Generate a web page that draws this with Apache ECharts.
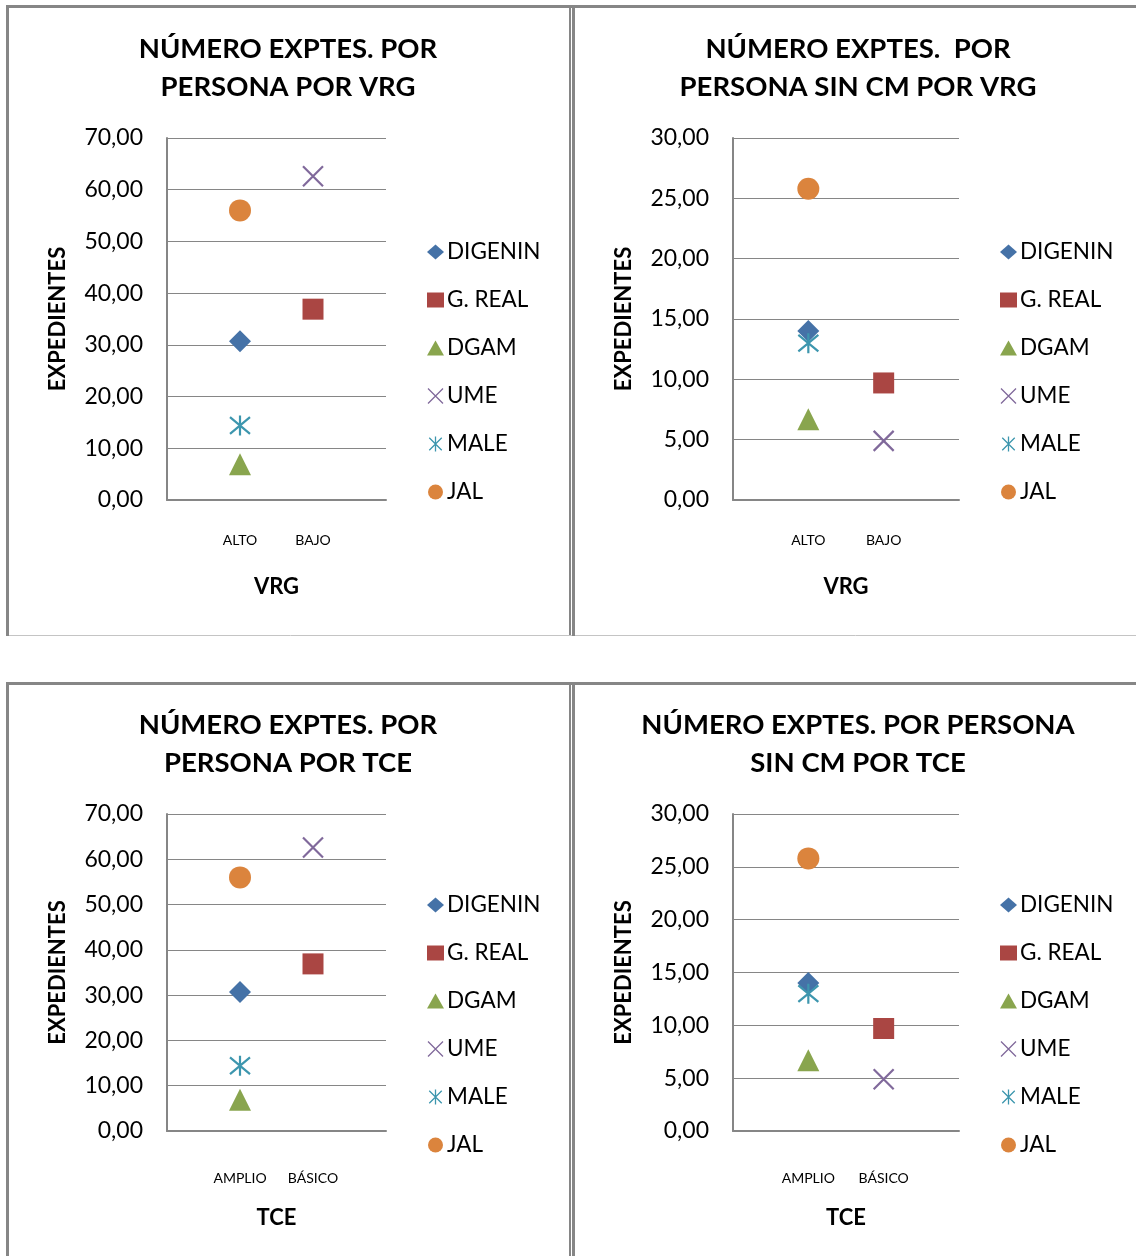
<!DOCTYPE html>
<html>
<head>
<meta charset="utf-8">
<script src="https://cdn.jsdelivr.net/npm/echarts@6/dist/echarts.min.js"></script>
<style>
html,body{margin:0;padding:0;background:#fff;}
#chart{width:1136px;height:1256px;}
</style>
</head>
<body>
<div id="chart"></div>
<script>
// ---- data ----
const seriesNames = ['DIGENIN', 'G. REAL', 'DGAM', 'UME', 'MALE', 'JAL'];
const categoriesVRG = ['ALTO', 'BAJO'];
const categoriesTCE = ['AMPLIO', 'BÁSICO'];
// category position (1 = first category, 2 = second) of each series' point
const seriesCategory = [1, 2, 1, 2, 1, 1];
const valuesPorPersona = [30.7, 36.9, 6.9, 62.6, 14.4, 56.0];
const valuesSinCM = [14.0, 9.7, 6.7, 4.9, 13.0, 25.8];
const yTicksPorPersona = { min: 0, max: 70, interval: 10 };
const yTicksSinCM = { min: 0, max: 30, interval: 5 };

const titles = [
  'NÚMERO EXPTES. POR\nPERSONA POR VRG',
  'NÚMERO EXPTES.  POR\nPERSONA SIN CM POR VRG',
  'NÚMERO EXPTES. POR\nPERSONA POR TCE',
  'NÚMERO EXPTES. POR PERSONA\nSIN CM POR TCE'
];
const xNames = ['VRG', 'VRG', 'TCE', 'TCE'];
const yName = 'EXPEDIENTES';

// ---- styles ----
const colors = ['#4572A7', '#AA4643', '#89A54E', '#80699B', '#3D96AE', '#DB843D'];
const X_PATH = 'path://M0,0L10,10M10,0L0,10';
const AST_PATH = 'path://M0,0L10,10M10,0L0,10M5,-1L5,11';
const symbols = ['diamond', 'rect', 'triangle', X_PATH, AST_PATH, 'circle'];
const symbolSizes = [22, 21, 22, 20, 20, 22];
const FONT = 'Lato, "Open Sans", sans-serif';
const DARK = '#868686';

const panels = [
  { grid: { left: 167, top: 138, width: 219, height: 362 }, titleX: 288, titleY: 30, legendLeft: 427, legendTop: 239, labelMargin: 33, cats: categoriesVRG, vals: valuesPorPersona, yt: yTicksPorPersona },
  { grid: { left: 733, top: 138, width: 226, height: 362 }, titleX: 858, titleY: 30, legendLeft: 1000, legendTop: 239, labelMargin: 33, cats: categoriesVRG, vals: valuesSinCM, yt: yTicksSinCM },
  { grid: { left: 167, top: 814, width: 219, height: 317 }, titleX: 288, titleY: 706, legendLeft: 427, legendTop: 892, labelMargin: 40, cats: categoriesTCE, vals: valuesPorPersona, yt: yTicksPorPersona },
  { grid: { left: 733, top: 814, width: 226, height: 317 }, titleX: 858, titleY: 706, legendLeft: 1000, legendTop: 892, labelMargin: 40, cats: categoriesTCE, vals: valuesSinCM, yt: yTicksSinCM }
];

const option = {
  animation: false,
  backgroundColor: '#fff',
  title: [], legend: [], grid: [], xAxis: [], yAxis: [], series: [],
  graphic: []
};

panels.forEach((p, i) => {
  option.title.push({
    text: titles[i], left: p.titleX, top: p.titleY, textAlign: 'center', padding: 0,
    textStyle: { fontFamily: FONT, fontSize: 27.5, fontWeight: 'bold', color: '#000', lineHeight: 38 }
  });
  option.grid.push(Object.assign({ containLabel: false }, p.grid));
  option.xAxis.push({
    type: 'value', gridIndex: i, min: 0, max: 3, interval: 1,
    name: xNames[i], nameLocation: 'middle', nameGap: 76,
    nameTextStyle: { fontFamily: FONT, fontSize: 22, fontWeight: 'bold', color: '#000' },
    axisLine: { show: true, lineStyle: { color: DARK, width: 2 } },
    axisTick: { show: false }, splitLine: { show: false },
    axisLabel: {
      margin: p.labelMargin, fontFamily: FONT, fontSize: 14, color: '#000',
      formatter: (v) => (p.cats[v - 1] || '')
    }
  });
  option.yAxis.push({
    type: 'value', gridIndex: i, min: p.yt.min, max: p.yt.max, interval: p.yt.interval,
    name: yName, nameLocation: 'middle', nameGap: 98, nameRotate: 90,
    nameTextStyle: { fontFamily: FONT, fontSize: 22, fontWeight: 'bold', color: '#000' },
    axisLine: { show: true, lineStyle: { color: DARK, width: 2 } },
    axisTick: { show: false },
    splitLine: { show: true, lineStyle: { color: DARK, width: 1 } },
    axisLabel: {
      margin: 24, fontFamily: FONT, fontSize: 23, color: '#000',
      formatter: (v) => v.toFixed(2).replace('.', ',')
    }
  });
  option.legend.push({
    orient: 'vertical', left: p.legendLeft, top: p.legendTop, padding: 0,
    itemWidth: 17, itemHeight: 15, itemGap: 22,
    textStyle: { fontFamily: FONT, fontSize: 22.5, color: '#000', lineHeight: 26, padding: [0, 0, 0, -2] },
    data: seriesNames.map((n, k) => ({
      name: n, icon: symbols[k],
      itemStyle: (k === 3 || k === 4)
        ? { color: 'rgba(0,0,0,0)', borderColor: colors[k], borderWidth: 1.3 }
        : { color: colors[k], borderWidth: 0 }
    }))
  });
  seriesNames.forEach((n, k) => {
    const isLine = (k === 3 || k === 4);
    option.series.push({
      type: 'scatter', name: n, xAxisIndex: i, yAxisIndex: i,
      symbol: symbols[k], symbolSize: symbolSizes[k],
      itemStyle: isLine
        ? { color: 'rgba(0,0,0,0)', borderColor: colors[k], borderWidth: 2.2, opacity: 1 }
        : { color: colors[k], opacity: 1 },
      emphasis: { disabled: true },
      data: [[seriesCategory[k], p.vals[k]]]
    });
  });
});

// panel borders
const line = (x1, y1, x2, y2, w, c) => ({
  type: 'line', silent: true, z: 100,
  shape: { x1, y1, x2, y2 }, style: { stroke: c, lineWidth: w }
});
option.graphic = [
  // top-left panel
  line(7.5, 5, 7.5, 636, 3, DARK),
  line(6, 6.5, 572, 6.5, 3, DARK),
  line(570, 5, 570, 636, 2, DARK),
  line(9, 635.5, 572, 635.5, 1, '#c4c4c4'),
  // top-right panel
  line(573.5, 5, 573.5, 636, 3, DARK),
  line(572, 6.5, 1136, 6.5, 3, DARK),
  line(575, 635.5, 1136, 635.5, 1, '#c4c4c4'),
  // bottom-left panel
  line(7.5, 682, 7.5, 1256, 3, DARK),
  line(6, 683.5, 572, 683.5, 3, DARK),
  line(570, 682, 570, 1256, 2, DARK),
  // bottom-right panel
  line(573.5, 682, 573.5, 1256, 3, DARK),
  line(572, 683.5, 1136, 683.5, 3, DARK)
];

const chart = echarts.init(document.getElementById('chart'), null, { renderer: 'canvas' });
chart.setOption(option);
</script>
</body>
</html>
